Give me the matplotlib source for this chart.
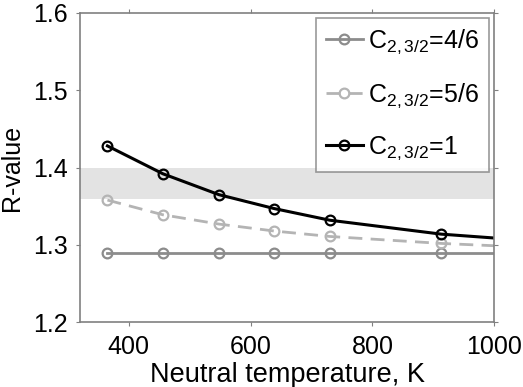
import numpy as np
import matplotlib
matplotlib.use('Agg')
import matplotlib.pyplot as plt

plt.rcParams['font.family'] = ['Liberation Sans', 'DejaVu Sans']
plt.rcParams['mathtext.fontset'] = 'custom'
plt.rcParams['mathtext.rm'] = 'Liberation Sans'
plt.rcParams['mathtext.it'] = 'Liberation Sans'

temp = [365, 456, 548, 639, 730, 913, 1000]
r_46 = [1.290, 1.290, 1.290, 1.290, 1.290, 1.290, 1.290]
r_56 = [1.358, 1.339, 1.327, 1.318, 1.311, 1.302, 1.299]
r_1 = [1.428, 1.392, 1.365, 1.347, 1.332, 1.314, 1.309]
band = [1.36, 1.40]

fig = plt.figure(figsize=(5.23, 3.87), dpi=100)
ax = fig.add_axes([0.153, 0.167, 0.792, 0.800])

ax.axhspan(band[0], band[1], color='#e3e3e3', lw=0, zorder=0)

marks = list(range(6))
ax.plot(temp, r_46, '-o', color='#8c8c8c', lw=2, ms=7, mfc='none', mew=1.6,
        markevery=marks, label=r'C$_{2,3/2}$=4/6')
ax.plot(temp, r_56, '--o', color='#b4b4b4', lw=2, ms=7, mfc='none', mew=1.6,
        dashes=(5, 3), markevery=marks, label=r'C$_{2,3/2}$=5/6')
ax.plot(temp, r_1, '-o', color='black', lw=2.2, ms=7, mfc='none', mew=1.6,
        markevery=marks, label=r'C$_{2,3/2}$=1')

ax.set_xlim(320, 1000)
ax.set_ylim(1.2, 1.6)
ax.set_xticks([400, 600, 800, 1000])
ax.set_yticks([1.2, 1.3, 1.4, 1.5, 1.6])
ax.set_yticklabels(['1.2', '1.3', '1.4', '1.5', '1.6'])
ax.tick_params(direction='out', top=True, right=True, labelsize=18, length=3,
               color='#808080', pad=6)
for s in ax.spines.values():
    s.set_color('#808080')
    s.set_linewidth(1.2)

ax.set_xlabel('Neutral temperature, K', fontsize=19.5, labelpad=2)
ax.set_ylabel('R-value', fontsize=18, labelpad=6)

leg = ax.legend(loc='upper right', bbox_to_anchor=(0.988, 0.983), fontsize=18,
                fancybox=False, edgecolor='#808080', handlelength=1.5,
                handletextpad=0.2, borderpad=0.4, labelspacing=1.0,
                borderaxespad=0)
leg.get_frame().set_linewidth(1.2)

plt.savefig('out.png', dpi=100)
